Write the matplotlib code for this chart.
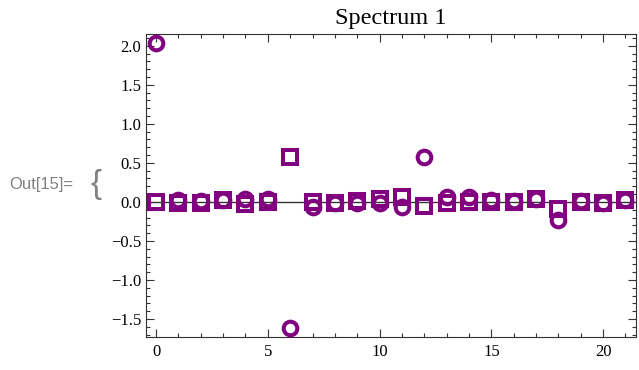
import matplotlib
matplotlib.use("Agg")
import matplotlib.pyplot as plt
from matplotlib.ticker import MultipleLocator

# Data
x_idx = list(range(22))
circles = [2.03, 0.03, 0.01, 0.02, 0.035, 0.04, -1.61, -0.07, -0.02, -0.01,
           -0.02, -0.07, 0.57, 0.06, 0.06, 0.03, 0.01, 0.04, -0.23, 0.01,
           -0.01, 0.02]
squares = [0.0, -0.01, -0.01, 0.02, -0.03, 0.0, 0.57, 0.0, -0.01, 0.01,
           0.04, 0.06, -0.05, -0.02, 0.0, 0.0, 0.0, 0.04, -0.09, 0.0,
           -0.01, 0.02]
title = "Spectrum 1"
x_major = [0, 5, 10, 15, 20]
y_major = [-1.5, -1.0, -0.5, 0.0, 0.5, 1.0, 1.5, 2.0]

purple = "#800080"
plt.rcParams['font.family'] = ['Liberation Serif', 'DejaVu Serif']

fig = plt.figure(figsize=(6.39, 3.70), dpi=100)
ax = fig.add_axes([146/639, 1-337/370, (636-146)/639, (337-34)/370])

ax.axhline(0, color="#333333", lw=1.0, zorder=1)
ax.plot(x_idx, squares, ls="none", marker="s", ms=9.8, mfc="none",
        mec=purple, mew=2.9, zorder=3)
ax.plot(x_idx, circles, ls="none", marker="o", ms=9.8, mfc="none",
        mec=purple, mew=2.9, zorder=3)

ax.set_xlim(-0.45, 21.47)
ax.set_ylim(-1.73, 2.15)
ax.set_xticks(x_major)
ax.set_yticks(y_major)
ax.set_yticklabels([f"{v:.1f}".replace("-", "\u2212") for v in y_major])
ax.xaxis.set_minor_locator(MultipleLocator(1))
ax.yaxis.set_minor_locator(MultipleLocator(0.1))
ax.tick_params(which="both", direction="in", top=True, right=True,
               labelsize=12, color="#333333", width=0.8)
ax.tick_params(which="major", length=5.5)
ax.tick_params(which="minor", length=3)
ax.tick_params(axis="x", pad=5)
for s in ax.spines.values():
    s.set_linewidth(0.8)
    s.set_color("#333333")
ax.set_title(title, fontsize=17.5, pad=7.5)

fig.text(9/639, 1-184/370, "Out[15]=", color="#808080", fontsize=12,
         family=["Liberation Sans", "DejaVu Sans"], va="center", ha="left")
fig.text(96/639, 1-184/370, "{", color="#808080", fontsize=24,
         family=["Liberation Sans", "DejaVu Sans"], va="center", ha="center")

fig.savefig("out.png", dpi=100)
